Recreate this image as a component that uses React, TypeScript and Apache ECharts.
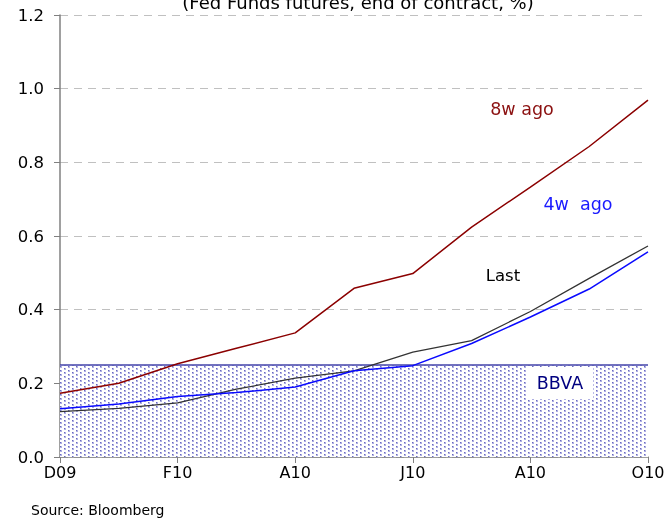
import React, { useEffect, useRef } from "react";
import * as echarts from "echarts";

const months = ["D09", "J10", "F10", "M10", "A10", "M10", "J10", "J10", "A10", "S10", "O10"];
const last = [0.123, 0.132, 0.147, 0.184, 0.214, 0.234, 0.285, 0.316, 0.395, 0.485, 0.573];
const fourWeeksAgo = [0.131, 0.144, 0.164, 0.175, 0.19, 0.234, 0.248, 0.308, 0.38, 0.456, 0.557];
const eightWeeksAgo = [0.173, 0.2, 0.253, 0.295, 0.337, 0.458, 0.498, 0.624, 0.733, 0.843, 0.969];
const bbva = [0.25, 0.25, 0.25, 0.25, 0.25, 0.25, 0.25, 0.25, 0.25, 0.25, 0.25];
const yTicks = { min: 0, max: 1.2, step: 0.2 };

const FONT = "DejaVu Sans, Verdana, sans-serif";

export default function App() {
  const ref = useRef<HTMLDivElement>(null);
  useEffect(() => {
    if (!ref.current) return;
    const chart = echarts.init(ref.current, undefined, { renderer: "svg" });

    const cv = document.createElement("canvas");
    cv.width = 8;
    cv.height = 4;
    const ctx = cv.getContext("2d")!;
    ctx.fillStyle = "#ffffff";
    ctx.fillRect(0, 0, 8, 4);
    ctx.fillStyle = "rgb(175,175,228)";
    ctx.fillRect(0, 0, 2, 2);
    ctx.fillRect(4, 2, 2, 2);
    ctx.fillStyle = "rgb(105,105,190)";
    ctx.fillRect(0, 0, 1, 1);
    ctx.fillRect(4, 2, 1, 1);

    chart.setOption({
      animation: false,
      grid: { left: 60, right: 20, top: 15, bottom: 62 },
      xAxis: {
        type: "category",
        data: months,
        boundaryGap: false,
        axisLine: { lineStyle: { color: "#808080", width: 1.5 } },
        axisTick: { interval: 1, length: 6, lineStyle: { color: "#808080" } },
        axisLabel: { interval: 1, color: "#000", fontSize: 16, fontFamily: FONT, margin: 7 },
        splitLine: { show: false },
      },
      yAxis: {
        type: "value",
        min: yTicks.min,
        max: yTicks.max,
        interval: yTicks.step,
        axisLine: { show: true, lineStyle: { color: "#808080", width: 1.5 } },
        axisTick: { show: true, length: 6, lineStyle: { color: "#808080" } },
        axisLabel: {
          color: "#000",
          fontSize: 16.5,
          fontFamily: FONT,
          margin: 16,
          formatter: (v: number) => v.toFixed(1),
        },
        splitLine: { show: true, lineStyle: { color: "#c0c0c0", type: [8, 6], width: 1 } },
      },
      series: [
        {
          name: "BBVA",
          type: "line",
          data: bbva,
          symbol: "none",
          z: 1,
          lineStyle: { color: "#4444aa", width: 1.5 },
          areaStyle: { color: { image: cv, repeat: "repeat" }, opacity: 1 },
        },
        {
          name: "8w ago",
          type: "line",
          data: eightWeeksAgo,
          symbol: "none",
          z: 3,
          lineStyle: { color: "#8b0000", width: 1.5 },
        },
        {
          name: "Last",
          type: "line",
          data: last,
          symbol: "none",
          z: 3,
          lineStyle: { color: "#333333", width: 1.3 },
        },
        {
          name: "4w ago",
          type: "line",
          data: fourWeeksAgo,
          symbol: "none",
          z: 4,
          lineStyle: { color: "#0a0aff", width: 1.5 },
        },
      ],
      graphic: [
        {
          type: "text",
          x: 358,
          y: 11,
          style: {
            text: "(Fed Funds futures, end of contract, %)",
            fill: "#000",
            font: `18px ${FONT}`,
            textAlign: "center",
            textVerticalAlign: "bottom",
          },
        },
        {
          type: "text",
          x: 522,
          y: 109,
          style: { text: "8w ago", fill: "#8b1010", font: `17.5px ${FONT}`, textAlign: "center", textVerticalAlign: "middle" },
        },
        {
          type: "text",
          x: 578,
          y: 204,
          style: { text: "4w  ago", fill: "#1a1aff", font: `17.5px ${FONT}`, textAlign: "center", textVerticalAlign: "middle" },
        },
        {
          type: "text",
          x: 503,
          y: 275,
          style: { text: "Last", fill: "#000", font: `16.5px ${FONT}`, textAlign: "center", textVerticalAlign: "middle" },
        },
        {
          type: "text",
          x: 560,
          y: 383,
          z: 10,
          style: {
            text: "BBVA",
            fill: "#000080",
            font: `17.5px ${FONT}`,
            textAlign: "center",
            textVerticalAlign: "middle",
            backgroundColor: "#ffffff",
            padding: [7, 10, 7, 10],
          },
        },
        {
          type: "text",
          x: 31,
          y: 510,
          style: { text: "Source: Bloomberg", fill: "#000", font: `14px ${FONT}`, textAlign: "left", textVerticalAlign: "middle" },
        },
      ],
    });
    return () => chart.dispose();
  }, []);
  return <div ref={ref} style={{ width: 668, height: 519, position: "fixed", left: 0, top: 0 }} />;
}
